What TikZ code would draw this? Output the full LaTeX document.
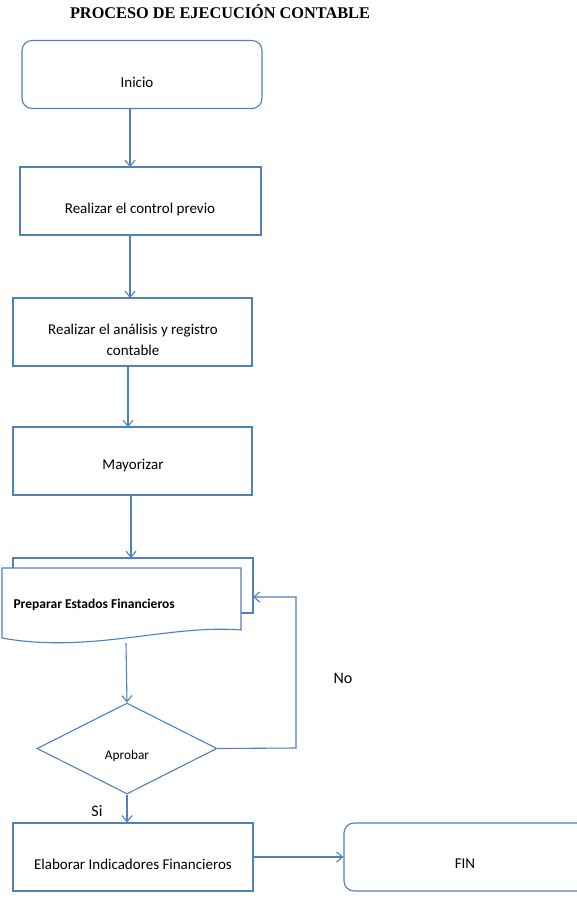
\documentclass[tikz,border=0pt]{standalone}
\usepackage{fontspec}
\setmainfont{Carlito}
\newfontfamily\titlefont{Liberation Serif}
\usetikzlibrary{arrows.meta,shapes.geometric}
\definecolor{flow}{HTML}{4F81BD}
\begin{document}
\begin{tikzpicture}[x=1pt,y=-1pt,
  line width=1.1pt,
  box/.style={draw=flow,fill=white,minimum width=#1,minimum height=68pt,inner sep=0pt},
  rbox/.style={box=#1,rounded corners=10pt},
  txt/.style={align=center,font=\fontsize{15}{21}\selectfont},
  arr/.style={draw=flow,-{Straight Barb[length=6pt,width=10pt,line width=1.1pt]}},
  lbl/.style={font=\fontsize{16}{18}\selectfont}]
\useasboundingbox (0,0) rectangle (577,911);
\clip (0,0) rectangle (577,911);
\fill[white] (0,0) rectangle (577,911);
\node[font=\titlefont\bfseries\fontsize{16.3}{18}\selectfont] (title) at (220,12) {PROCESO DE EJECUCIÓN CONTABLE};
\node[rbox=240pt] (inicio) at (142,74.5) {};
\node[txt] (inicio-t) at (137,82) {Inicio};
\node[box=241pt] (control) at (140.5,201) {};
\node[txt] (control-t) at (140,209) {Realizar el control previo};
\node[box=239pt] (analisis) at (132.5,332) {};
\node[txt] (analisis-t) at (133,340) {Realizar el análisis y registro\\contable};
\node[box=239pt] (mayor) at (132.5,461) {};
\node[txt] (mayor-t) at (133,466) {Mayorizar};
% multi-document
\draw[flow,fill=white] (13,558) rectangle (253,613);
\draw[flow,fill=white] (2,568) -- (241,568) -- (241,630) .. controls (170,624) and (90,654) .. (2,638) -- cycle;
\node[font=\bfseries\fontsize{13.5}{16}\selectfont,anchor=west,inner sep=0pt] (prep) at (13,605) {Preparar Estados Financieros};
\coordinate (docbot) at (126,643);
\coordinate (docin) at (253,597);
\node[diamond,draw=flow,fill=white,minimum width=180pt,minimum height=91pt,inner sep=0pt,aspect=2] (aprobar) at (127,748.5) {};
\node[font=\fontsize{13.3}{15}\selectfont] (aprobtxt) at (127,756) {Aprobar};
\node[box=240pt] (elab) at (133,857) {};
\node[txt] (elab-t) at (133,864) {Elaborar Indicadores Financieros};
\node[rbox=244pt] (fin) at (466,857) {};
\node[txt] (fin-t) at (465,864) {FIN};
\node[lbl] (no) at (343,678) {No};
\node[lbl] (si) at (97,811) {Si};
\coordinate (nocorner1) at (296,748);
\coordinate (nocorner2) at (296,597);
\draw[arr] (130,108) -- (130,167);
\draw[arr] (130,235) -- (130,298);
\draw[arr] (128,366) -- (128,427);
\draw[arr] (131,495) -- (131,558);
\draw[arr] (docbot) -- (aprobar.north);
\draw[arr] (aprobar.east) -- (nocorner1) -- (nocorner2) -- (docin);
\draw[arr] (aprobar.south) -- (aprobar.south |- elab.north);
\draw[arr] (elab.east) -- (fin.west);
\end{tikzpicture}
\end{document}
